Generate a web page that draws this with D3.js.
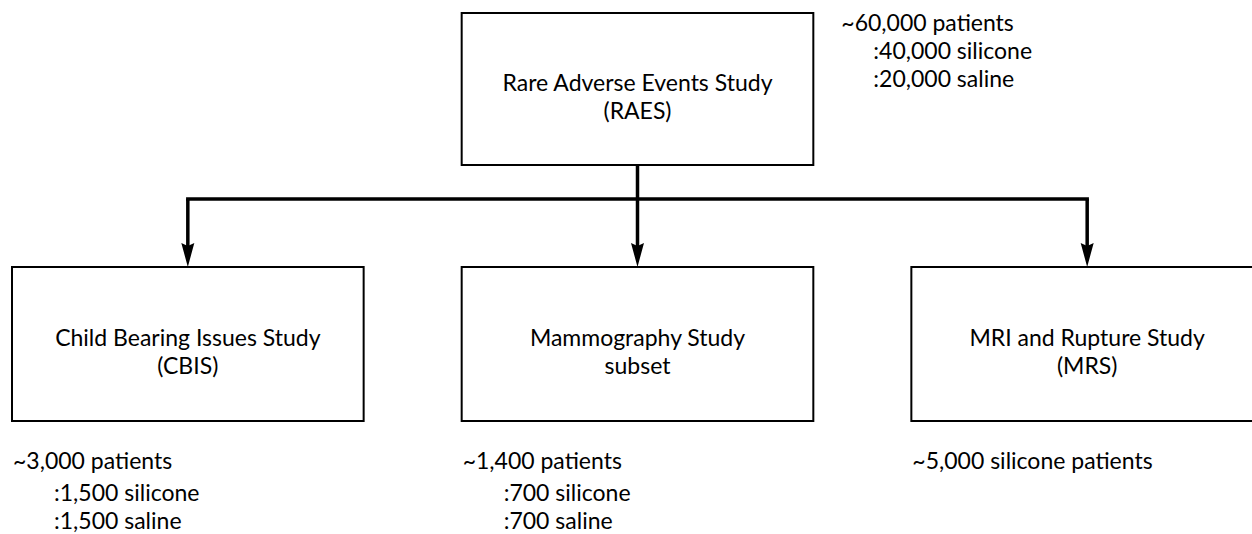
<!DOCTYPE html>
<html>
<head>
<meta charset="utf-8">
<script src="https://cdn.jsdelivr.net/npm/d3@7"></script>
<style>
  html, body { margin: 0; padding: 0; background: #fff; }
  svg { display: block; }
  text { font-family: Lato, "Open Sans", sans-serif; fill: #000; }
</style>
</head>
<body>
<svg id="chart" width="1252" height="534"></svg>
<script>
// ---- data ----
const rootTitle = ["Rare Adverse Events Study", "(RAES)"];
const rootCounts = ["~60,000 patients", ":40,000 silicone", ":20,000 saline"];
const studies = ["Child Bearing Issues Study", "Mammography Study", "MRI and Rupture Study"];
const studyCodes = ["(CBIS)", "subset", "(MRS)"];
const studyTotals = ["~3,000 patients", "~1,400 patients", "~5,000 silicone patients"];
const studySilicone = [":1,500 silicone", ":700 silicone", ""];
const studySaline = [":1,500 saline", ":700 saline", ""];

// ---- layout ----
const svg = d3.select("#chart");
const fontSize = 23;
const lineGap = 27.5;

const x = d3.scaleBand().domain(studies).range([12, 1263]).paddingInner(0.218).paddingOuter(0);
const bw = x.bandwidth();
const cx = d => x(d) + bw / 2;

const rootCx = cx(studies[1]);
const rootBox = { x0: rootCx - bw / 2, x1: rootCx + bw / 2, y0: 13, y1: 165 };
const childY0 = 267, childY1 = 421;
const busY = 199;
const lineStroke = 3.5;

// root box
svg.append("rect")
  .attr("x", rootBox.x0).attr("y", rootBox.y0)
  .attr("width", rootBox.x1 - rootBox.x0).attr("height", rootBox.y1 - rootBox.y0)
  .attr("fill", "#fff").attr("stroke", "#000").attr("stroke-width", 2);

svg.selectAll("text.root").data(rootTitle).join("text")
  .attr("class", "root")
  .attr("x", rootCx).attr("y", (d, i) => 91 + i * lineGap)
  .attr("text-anchor", "middle").attr("font-size", fontSize)
  .text(d => d);

svg.selectAll("text.rootCount").data(rootCounts).join("text")
  .attr("class", "rootCount")
  .attr("x", (d, i) => rootBox.x1 + 28 + (i > 0 ? 32 : 0))
  .attr("y", (d, i) => 31 + i * 28)
  .attr("font-size", fontSize)
  .text(d => d);

// connectors
svg.append("line")
  .attr("x1", rootCx).attr("x2", rootCx)
  .attr("y1", rootBox.y1).attr("y2", busY)
  .attr("stroke", "#000").attr("stroke-width", lineStroke);
svg.append("line")
  .attr("x1", cx(studies[0]) - lineStroke / 2).attr("x2", cx(studies[2]) + lineStroke / 2)
  .attr("y1", busY).attr("y2", busY)
  .attr("stroke", "#000").attr("stroke-width", lineStroke);
svg.selectAll("line.drop").data(studies).join("line")
  .attr("class", "drop")
  .attr("x1", d => cx(d)).attr("x2", d => cx(d))
  .attr("y1", busY).attr("y2", childY0 - 20)
  .attr("stroke", "#000").attr("stroke-width", lineStroke);
svg.selectAll("path.head").data(studies).join("path")
  .attr("class", "head")
  .attr("d", d => {
    const p = d3.path();
    const c = cx(d), tip = childY0;
    p.moveTo(c - 6.5, tip - 24);
    p.lineTo(c, tip - 21);
    p.lineTo(c + 6.5, tip - 24);
    p.lineTo(c, tip);
    p.closePath();
    return p.toString();
  })
  .attr("fill", "#000");

// child boxes
const g = svg.selectAll("g.study").data(studies).join("g").attr("class", "study");
g.append("rect")
  .attr("x", d => x(d)).attr("y", childY0)
  .attr("width", bw).attr("height", childY1 - childY0)
  .attr("fill", "none").attr("stroke", "#000").attr("stroke-width", 2);
g.append("text")
  .attr("x", d => cx(d)).attr("y", 346)
  .attr("text-anchor", "middle").attr("font-size", fontSize)
  .text(d => d);
g.append("text")
  .attr("x", d => cx(d)).attr("y", 346 + lineGap)
  .attr("text-anchor", "middle").attr("font-size", fontSize)
  .text((d, i) => studyCodes[i]);

// counts below
g.append("text")
  .attr("x", d => x(d) + 1).attr("y", 469)
  .attr("font-size", fontSize)
  .text((d, i) => studyTotals[i]);
g.append("text")
  .attr("x", d => x(d) + 42).attr("y", 501)
  .attr("font-size", fontSize)
  .text((d, i) => studySilicone[i]);
g.append("text")
  .attr("x", d => x(d) + 42).attr("y", 529)
  .attr("font-size", fontSize)
  .text((d, i) => studySaline[i]);
</script>
</body>
</html>
